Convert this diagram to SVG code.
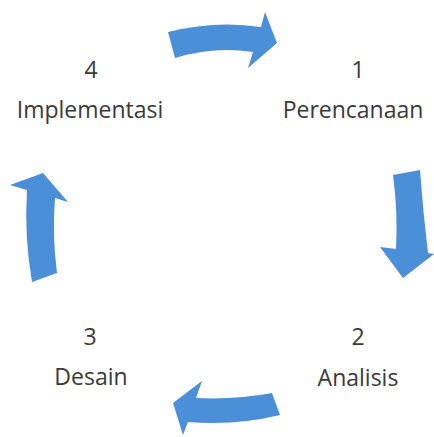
<svg xmlns="http://www.w3.org/2000/svg" width="434" height="437" viewBox="0 0 434 437">
<style>
.lbl{font-family:"Open Sans","Liberation Sans",sans-serif;font-size:23px;fill:#3a3a3a;text-anchor:middle}
.arr{fill:#4a8fd7;stroke:none}
</style>
<rect width="434" height="437" fill="#ffffff"/>
<g id="connectors">
<path class="arr" d="M168,32 Q215,20 261,27 L265,12 L277,43 L248,68 L253,52 Q215,46 175,58 Z"/>
<path class="arr" d="M393,175 L420,170 Q423,212 428,253 L434,254 L403,278 L380,247 L396,249 Q398,212 393,175 Z"/>
<path class="arr" d="M272,393 Q235,400 196,398 L202,381 L173,403 L183,435 L188,422 Q235,426 280,415 Z"/>
<path class="arr" d="M32,282 Q24,236 27,190 L10,185 L43,173 L68,202 L55,198 Q52,236 57,273 Z"/>
</g>
<g id="node1">
<text class="lbl" x="358" y="78">1</text>
<text class="lbl" x="353" y="118">Perencanaan</text>
</g>
<g id="node2">
<text class="lbl" x="358" y="345">2</text>
<text class="lbl" x="358" y="386">Analisis</text>
</g>
<g id="node3">
<text class="lbl" x="90" y="345">3</text>
<text class="lbl" x="91" y="385">Desain</text>
</g>
<g id="node4">
<text class="lbl" x="91" y="78">4</text>
<text class="lbl" x="90" y="118">Implementasi</text>
</g>
</svg>
